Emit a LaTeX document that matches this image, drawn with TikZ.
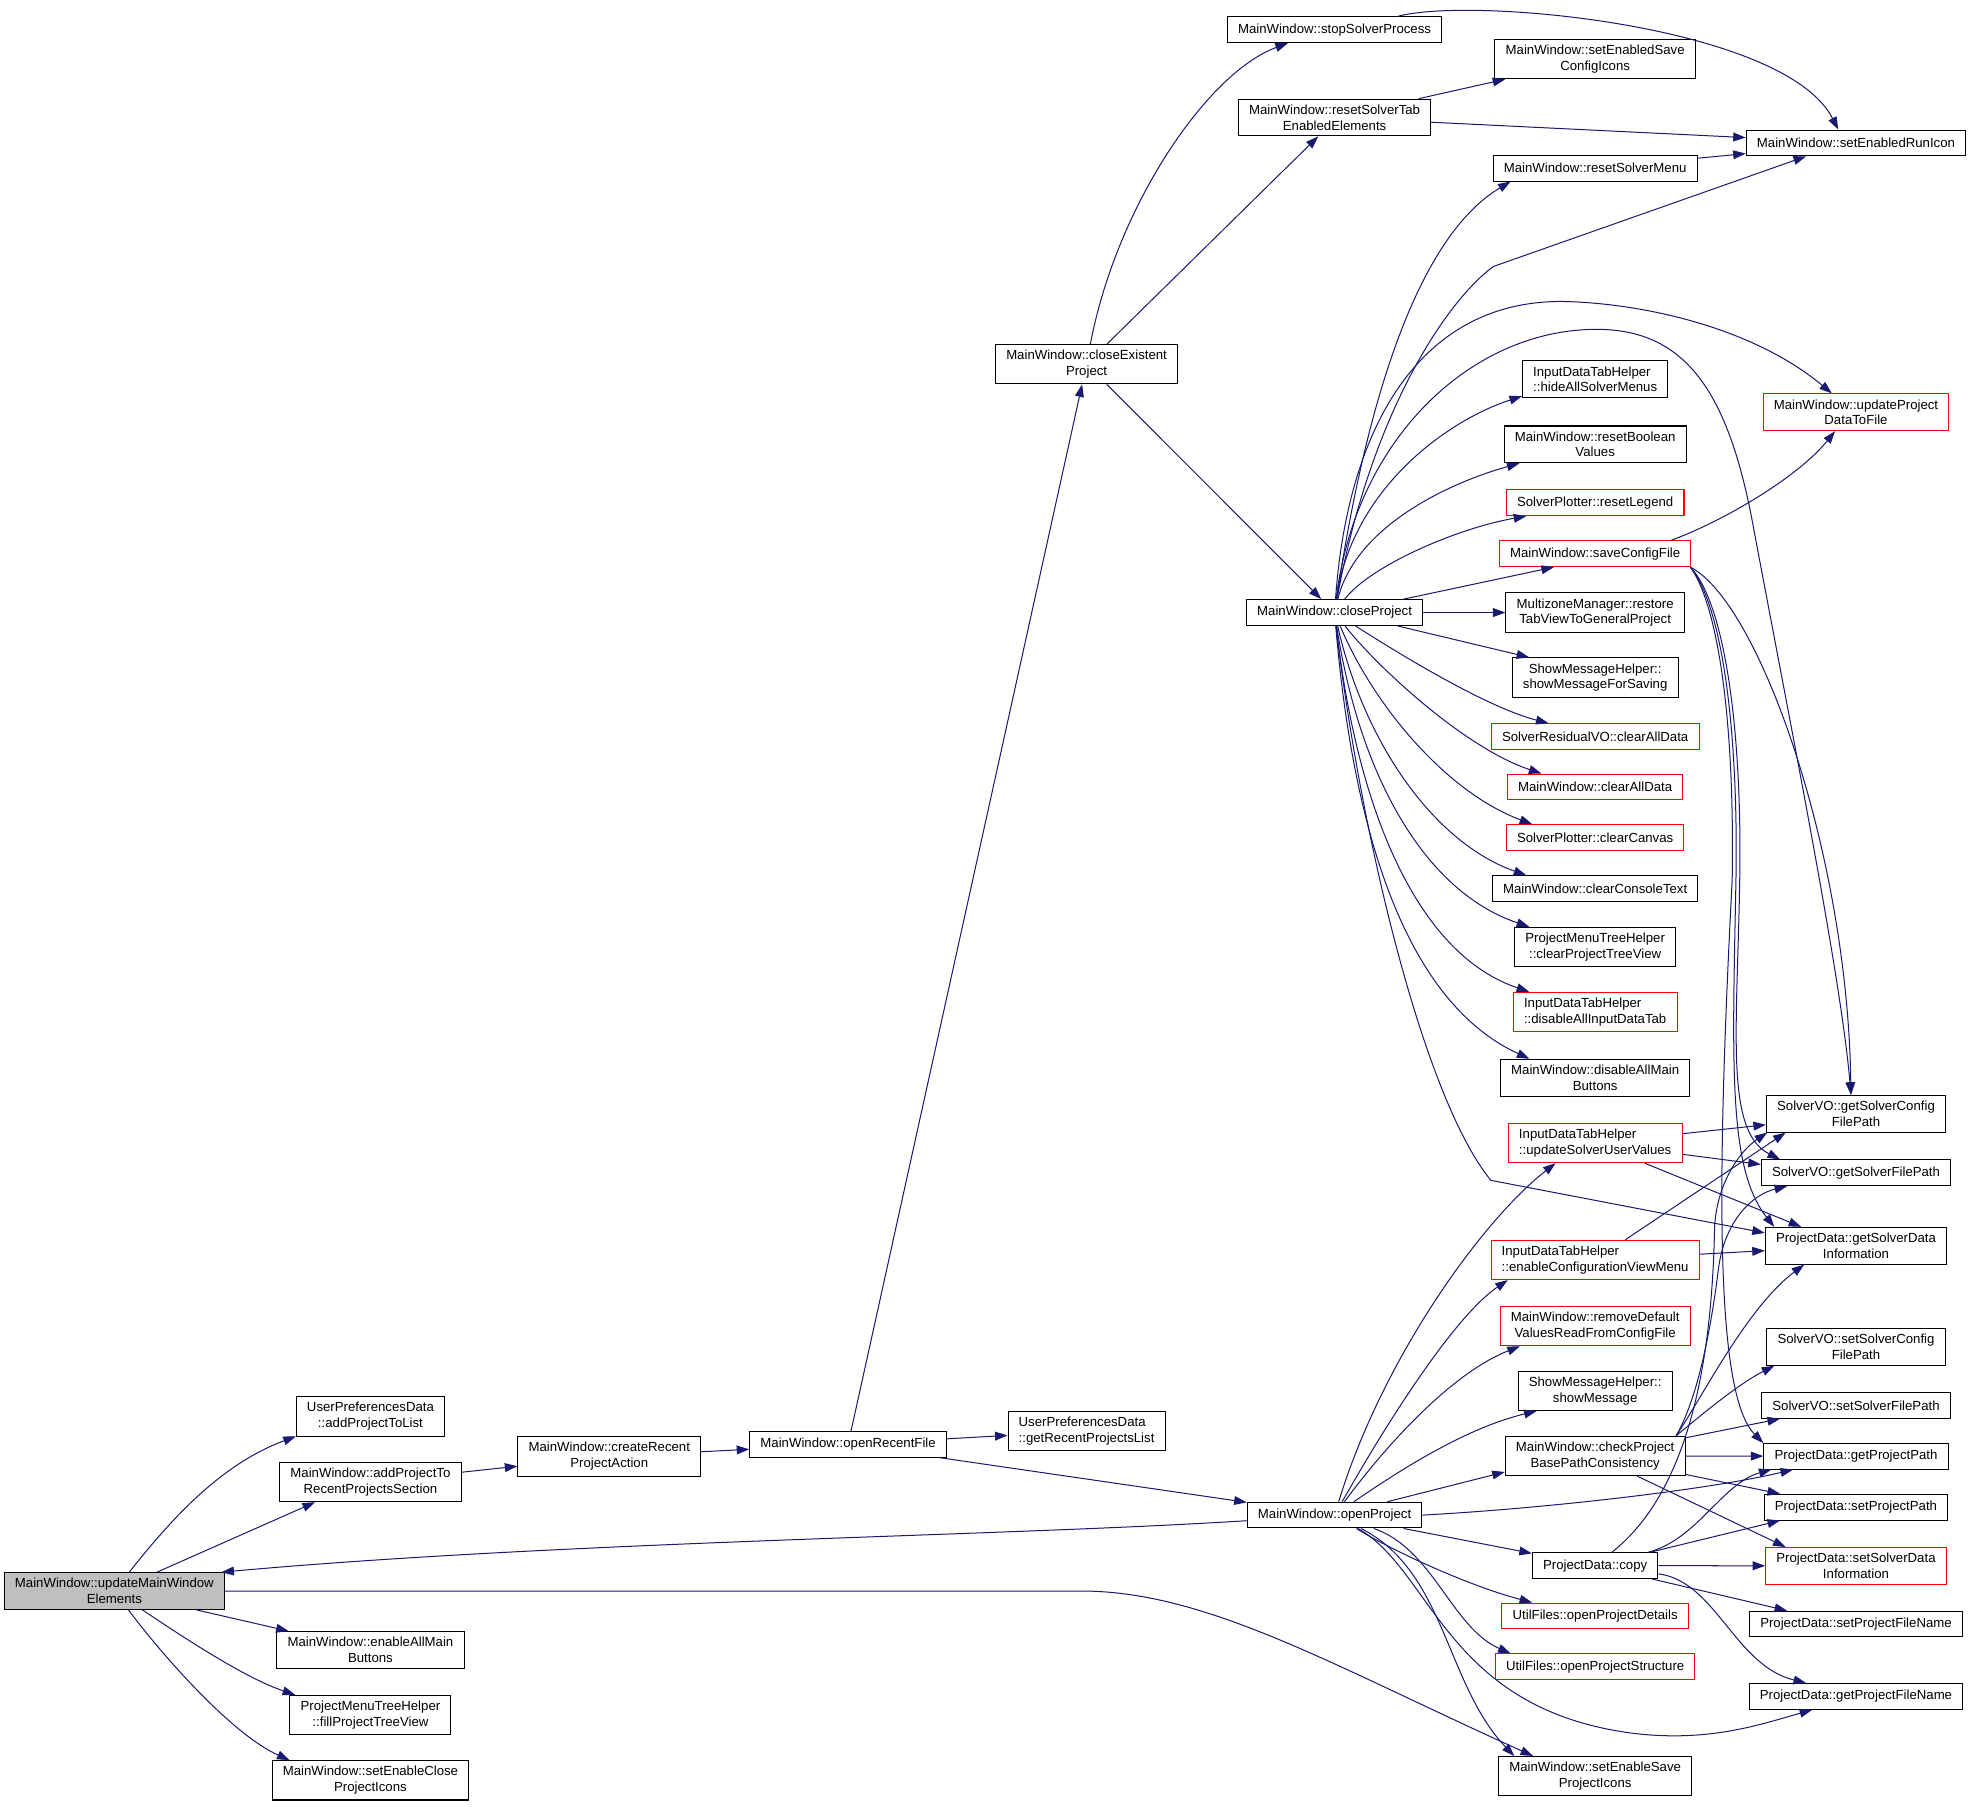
\documentclass[tikz,border=0pt]{standalone}
\usepackage{fontspec}
\setmainfont{Liberation Sans}
\usepackage{xcolor}
\usepackage{tikz}
\usetikzlibrary{arrows.meta}
\definecolor{cgblue}{HTML}{191970}
\definecolor{cggray}{HTML}{BFBFBF}
\definecolor{cgred}{HTML}{FF0000}
\tikzset{
  box/.style={draw=black, line width=0.8pt, fill=white, inner xsep=8.5pt, inner ysep=4.5pt, minimum height=20.5pt, align=center, font=\fontsize{10.5}{12.5}\selectfont},
  redbox/.style={box, draw=cgred},
  rootbox/.style={box, fill=cggray},
  line/.style={-{Triangle[length=10pt,width=7pt]}, line width=0.8pt, draw=cgblue}
}

\begin{document}
\begin{tikzpicture}[x=1pt, y=-1pt]
  \useasboundingbox (0,0) rectangle (1568,1437);

  \node[rootbox] (updMW) at (91,1265.7) {MainWindow::updateMainWindow\\Elements};
  \node[box] (addToList) at (294.7,1126.8) {UserPreferencesData\\::addProjectToList};
  \node[box] (addToRecent) at (294.7,1179) {MainWindow::addProjectTo\\RecentProjectsSection};
  \node[box] (enableMain) at (294.7,1312.6) {MainWindow::enableAllMain\\Buttons};
  \node[box] (fillTree) at (294.7,1364.3) {ProjectMenuTreeHelper\\::fillProjectTreeView};
  \node[box] (setClose) at (294.7,1416.3) {MainWindow::setEnableClose\\ProjectIcons};
  \node[box] (createRecent) at (484.7,1158.6) {MainWindow::createRecent\\ProjectAction};
  \node[box] (openRecent) at (674.7,1149) {MainWindow::openRecentFile};
  \node[box, align=left] (getRecentList) at (864.4,1138.4) {UserPreferencesData\\::getRecentProjectsList};
  \node[box] (closeExist) at (864.4,289.7) {MainWindow::closeExistent\\Project};

  \node[box] (stopSolver) at (1061.7,23.7) {MainWindow::stopSolverProcess};
  \node[box] (resetTab) at (1061.7,93.5) {MainWindow::resetSolverTab\\EnabledElements};
  \node[box] (closeProj) at (1061.7,487.3) {MainWindow::closeProject};
  \node[box] (openProj) at (1061.7,1205.3) {MainWindow::openProject};

  \node[box] (saveIcons) at (1269,47) {MainWindow::setEnabledSave\\ConfigIcons};
  \node[box] (resetMenu) at (1269,133.8) {MainWindow::resetSolverMenu};
  \node[box, align=left] (hideMenus) at (1269,301.7) {InputDataTabHelper\\::hideAllSolverMenus};
  \node[box] (resetBool) at (1269,353.5) {MainWindow::resetBoolean\\Values};
  \node[redbox] (resetLegend) at (1269,400) {SolverPlotter::resetLegend};
  \node[redbox] (saveConfig) at (1269,440.5) {MainWindow::saveConfigFile};
  \node[box] (restoreTab) at (1269,487.3) {MultizoneManager::restore\\TabViewToGeneralProject};
  \node[box] (msgSaving) at (1269,539) {ShowMessageHelper::\\showMessageForSaving};
  \node[redbox] (residClear) at (1269,586) {SolverResidualVO::clearAllData};
  \node[redbox] (mwClear) at (1269,626) {MainWindow::clearAllData};
  \node[redbox] (clearCanvas) at (1269,666.3) {SolverPlotter::clearCanvas};
  \node[box] (clearConsole) at (1269,707) {MainWindow::clearConsoleText};
  \node[box] (clearTree) at (1269,753.3) {ProjectMenuTreeHelper\\::clearProjectTreeView};
  \node[redbox, align=left] (disableTab) at (1269,805) {InputDataTabHelper\\::disableAllInputDataTab};
  \node[box] (disableMain) at (1269,857.3) {MainWindow::disableAllMain\\Buttons};
  \node[redbox, align=left] (updValues) at (1269,909.3) {InputDataTabHelper\\::updateSolverUserValues};
  \node[redbox, align=left] (enableConfig) at (1269,1002.3) {InputDataTabHelper\\::enableConfigurationViewMenu};
  \node[redbox] (removeDefault) at (1269,1055) {MainWindow::removeDefault\\ValuesReadFromConfigFile};
  \node[box] (showMsg) at (1269,1106.5) {ShowMessageHelper::\\showMessage};
  \node[box] (checkPath) at (1269,1158.3) {MainWindow::checkProject\\BasePathConsistency};
  \node[box] (pdCopy) at (1269,1245.5) {ProjectData::copy};
  \node[redbox] (openDetails) at (1269,1285.5) {UtilFiles::openProjectDetails};
  \node[redbox] (openStruct) at (1269,1326) {UtilFiles::openProjectStructure};
  \node[box] (setSave) at (1269,1413) {MainWindow::setEnableSave\\ProjectIcons};

  \node[box] (runIcon) at (1476.5,113.7) {MainWindow::setEnabledRunIcon};
  \node[redbox] (updData) at (1476.5,328) {MainWindow::updateProject\\DataToFile};
  \node[box] (getConfigPath) at (1476.5,886) {SolverVO::getSolverConfig\\FilePath};
  \node[box] (getFilePath) at (1476.5,933) {SolverVO::getSolverFilePath};
  \node[box] (getDataInfo) at (1476.5,991) {ProjectData::getSolverData\\Information};
  \node[box] (setConfigPath) at (1476.5,1071.5) {SolverVO::setSolverConfig\\FilePath};
  \node[box] (setFilePath) at (1476.5,1118) {SolverVO::setSolverFilePath};
  \node[box] (getProjPath) at (1476.5,1158.4) {ProjectData::getProjectPath};
  \node[box] (setProjPath) at (1476.5,1199) {ProjectData::setProjectPath};
  \node[redbox] (setDataInfo) at (1476.5,1245.7) {ProjectData::setSolverData\\Information};
  \node[box] (setFileName) at (1476.5,1292) {ProjectData::setProjectFileName};
  \node[box] (getFileName) at (1476.5,1349.5) {ProjectData::getProjectFileName};

  \draw[line] (updMW) .. controls (135,1210) and (175,1165) .. (addToList.195);
  \draw[line] (updMW) -- (addToRecent.200);
  \draw[line] (updMW) -- (enableMain.167);
  \draw[line] (updMW) .. controls (145,1302) and (195,1335) .. (fillTree.165);
  \draw[line] (updMW) .. controls (130,1318) and (185,1380) .. (setClose.166);
  \draw[line] (updMW.east) -- (860,1265.7) .. controls (960,1265.7) and (1060,1325) .. (setSave.162);
  \draw[line] (openProj) .. controls (800,1222) and (450,1226) .. (updMW.10);
  \draw[line] (addToRecent) -- (createRecent);
  \draw[line] (createRecent) -- (openRecent);
  \draw[line] (openRecent) -- (getRecentList);
  \draw[line] (openRecent) -- (closeExist);
  \draw[line] (openRecent) -- (openProj);

  \draw[line] (closeExist) .. controls (888,165) and (960,58) .. (stopSolver.196);
  \draw[line] (closeExist) -- (resetTab.229);
  \draw[line] (closeExist) -- (closeProj);
  \draw[line] (stopSolver.12) .. controls (1170,-3) and (1420,20) .. (runIcon.143);
  \draw[line] (resetTab) -- (saveIcons);
  \draw[line] (resetTab) -- (runIcon);
  \draw[line] (resetMenu) -- (runIcon);

  \draw[line] (closeProj) .. controls (1085,330) and (1125,190) .. (resetMenu.189);
  \draw[line] (closeProj) .. controls (1090,330) and (1150,240) .. (1188,212) -- (runIcon.195);
  \draw[line] (closeProj) .. controls (1072,340) and (1130,235) .. (1250,240) .. controls (1320,243) and (1400,265) .. (updData.142);
  \draw[line] (closeProj) .. controls (1078,350) and (1170,262) .. (1270,262) .. controls (1340,262) and (1375,310) .. (1395,420) .. controls (1425,580) and (1465,780) .. (getConfigPath.105);
  \draw[line] (closeProj) .. controls (1075,390) and (1150,335) .. (hideMenus.193);
  \draw[line] (closeProj) .. controls (1078,420) and (1150,385) .. (resetBool.194);
  \draw[line] (closeProj) .. controls (1090,450) and (1160,420) .. (resetLegend.191);
  \draw[line] (closeProj.11) -- (saveConfig.198);
  \draw[line] (closeProj) -- (restoreTab);
  \draw[line] (closeProj.-12) -- (msgSaving.163);
  \draw[line] (closeProj) .. controls (1105,515) and (1180,562) .. (residClear.164);
  \draw[line] (closeProj) .. controls (1095,530) and (1165,595) .. (mwClear.166);
  \draw[line] (closeProj) .. controls (1092,560) and (1150,630) .. (clearCanvas.168);
  \draw[line] (closeProj) .. controls (1085,590) and (1140,670) .. (clearConsole.169);
  \draw[line] (closeProj) .. controls (1082,620) and (1135,710) .. (clearTree.163);
  \draw[line] (closeProj) .. controls (1080,650) and (1130,760) .. (disableTab.163);
  \draw[line] (closeProj) .. controls (1078,680) and (1125,800) .. (disableMain.164);
  \draw[line] (closeProj) .. controls (1080,650) and (1130,870) .. (1186,939) -- (getDataInfo.172);

  \draw[line] (saveConfig.10) .. controls (1370,415) and (1430,380) .. (updData.222);
  \draw[line] (saveConfig.-8) .. controls (1400,480) and (1470,680) .. (getConfigPath.105);
  \draw[line] (saveConfig.-8) .. controls (1372,480) and (1386,580) .. (1384,700) .. controls (1382,820) and (1372,900) .. (getFilePath.170);
  \draw[line] (saveConfig.-8) .. controls (1370,482) and (1383,580) .. (1381,700) .. controls (1378,850) and (1375,930) .. (getDataInfo.167);
  \draw[line] (saveConfig.-8) .. controls (1368,484) and (1380,580) .. (1378,700) .. controls (1365,950) and (1365,1110) .. (getProjPath.172);

  \draw[line] (updValues) -- (getConfigPath.187);
  \draw[line] (updValues) -- (getFilePath.175);
  \draw[line] (updValues) -- (getDataInfo.161);
  \draw[line] (enableConfig) -- (getConfigPath.195);
  \draw[line] (enableConfig) -- (getDataInfo);

  \draw[line] (openProj) .. controls (1100,1080) and (1180,970) .. (updValues.207);
  \draw[line] (openProj) .. controls (1110,1120) and (1160,1045) .. (enableConfig.193);
  \draw[line] (openProj) .. controls (1110,1140) and (1160,1090) .. (removeDefault.195);
  \draw[line] (openProj) .. controls (1120,1165) and (1170,1135) .. (showMsg.199);
  \draw[line] (openProj) -- (checkPath.190);
  \draw[line] (openProj.east) .. controls (1230,1200) and (1360,1185) .. (getProjPath.192);
  \draw[line] (openProj) -- (pdCopy);
  \draw[line] (openProj) .. controls (1110,1235) and (1170,1262) .. (openDetails.168);
  \draw[line] (openProj) .. controls (1140,1232) and (1155,1295) .. (openStruct.171);
  \draw[line] (openProj) .. controls (1140,1250) and (1150,1360) .. (1300,1379) .. controls (1360,1386) and (1400,1372) .. (getFileName.197);
  \draw[line] (openProj) .. controls (1150,1250) and (1150,1340) .. (setSave.166);

  \draw[line] (checkPath.14) .. controls (1360,1120) and (1385,1100) .. (setConfigPath.193);
  \draw[line] (checkPath) -- (setFilePath.190);
  \draw[line] (checkPath) -- (getProjPath);
  \draw[line] (checkPath) -- (setProjPath.170);
  \draw[line] (checkPath) -- (setDataInfo.165);
  \draw[line] (checkPath.14) .. controls (1355,1110) and (1390,1040) .. (getDataInfo.200);
  \draw[line] (checkPath.14) .. controls (1352,1110) and (1362,1050) .. (1367,1010) .. controls (1372,970) and (1395,950) .. (getFilePath.191);

  \draw[line] (pdCopy) .. controls (1345,1185) and (1362,1080) .. (1364,976) .. controls (1366,940) and (1385,915) .. (getConfigPath.192);
  \draw[line] (pdCopy) .. controls (1350,1225) and (1370,1180) .. (getProjPath.189);
  \draw[line] (pdCopy) -- (setProjPath.190);
  \draw[line] (pdCopy) -- (setDataInfo);
  \draw[line] (pdCopy) -- (setFileName.169);
  \draw[line] (pdCopy) .. controls (1365,1258) and (1380,1325) .. (getFileName.165);
\end{tikzpicture}
\end{document}
